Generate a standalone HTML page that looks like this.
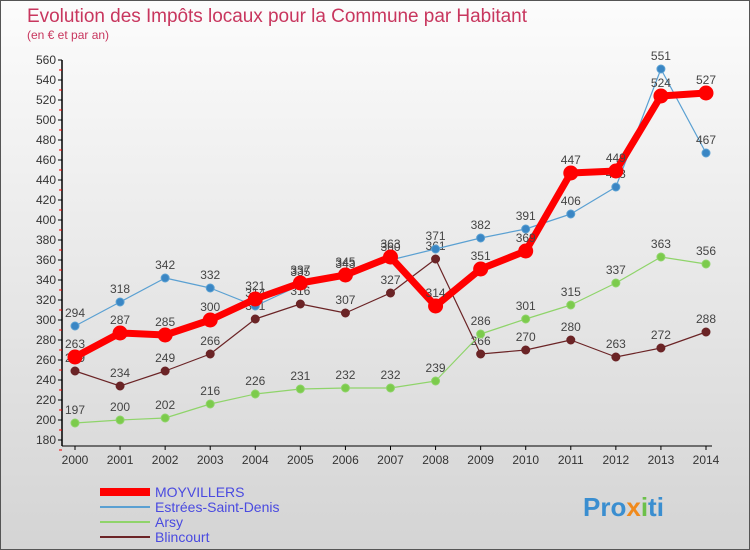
<!DOCTYPE html>
<html><head><meta charset="utf-8"><style>
body{margin:0}
#c{width:750px;height:550px;position:relative;overflow:hidden;font-family:"Liberation Sans",sans-serif}
</style></head><body>
<div id="c">
<svg id="s" width="750" height="550" xmlns="http://www.w3.org/2000/svg">
<defs><linearGradient id="bg" x1="0" y1="0" x2="0" y2="1"><stop offset="0" stop-color="#fcfcfc"/><stop offset="1" stop-color="#d4d4d4"/></linearGradient></defs>
<rect x="0.5" y="0.5" width="749" height="549" fill="url(#bg)" stroke="#555"/>
<text x="27" y="22" font-size="19" fill="#c8365e" textLength="500">Evolution des Impôts locaux pour la Commune par Habitant</text>
<text x="27" y="39" font-size="12" fill="#c8365e">(en € et par an)</text>
<g id="axes"></g><g id="series"></g><g id="legend"></g>
<text x="583" y="516" font-size="26" font-weight="bold" fill="#3a8ed0">Pro<tspan fill="#f08a1c">x</tspan><tspan fill="#6cc04a">i</tspan>ti</text>
</svg></div>
<script>
const years=[2000,2001,2002,2003,2004,2005,2006,2007,2008,2009,2010,2011,2012,2013,2014];
const yTicks=[180,200,220,240,260,280,300,320,340,360,380,400,420,440,460,480,500,520,540,560];
const moyvillers=[263,287,285,300,321,337,345,363,314,351,369,447,449,524,527];
const estrees=[294,318,342,332,314,335,343,360,371,382,391,406,433,551,467];
const arsy=[197,200,202,216,226,231,232,232,239,286,301,315,337,363,356];
const blincourt=[249,234,249,266,301,316,307,327,361,266,270,280,263,272,288];
const NS="http://www.w3.org/2000/svg";
const xS=i=>75+i*(706-75)/14;
const yS=v=>620-v;
function mk(t,a,p){const e=document.createElementNS(NS,t);for(const k in a)e.setAttribute(k,a[k]);p.appendChild(e);return e;}
const ax=document.getElementById('axes');
const yl=mk('line',{x1:62,y1:60,x2:62,y2:446,stroke:'#000','stroke-width':1.5},ax);


const xl=mk('line',{x1:62,y1:446,x2:712,y2:446,stroke:'#000','stroke-width':1},ax);


yTicks.forEach(v=>{
 mk('line',{x1:58,y1:yS(v),x2:62,y2:yS(v),stroke:'#000'},ax);
 mk('line',{x1:59,y1:yS(v)+10,x2:62,y2:yS(v)+10,stroke:'#e00'},ax);
 const t=mk('text',{x:56,y:yS(v)+4,'font-size':12,'text-anchor':'end',fill:'#333'},ax);
 t.textContent=v;
 
 
});
years.forEach((y,i)=>{
 mk('line',{x1:xS(i),y1:446,x2:xS(i),y2:450,stroke:'#000'},ax);
 const t=mk('text',{x:xS(i),y:464,'font-size':12,'text-anchor':'middle',fill:'#333'},ax);
 t.textContent=y;
 
 
});
const sg=document.getElementById('series');
function draw(name,data,color,w,r,fill){
 const g=mk('g',{},sg);
 
 
 mk('polyline',{points:data.map((v,i)=>xS(i)+','+yS(v)).join(' '),fill:'none',stroke:color,'stroke-width':w,'stroke-linejoin':'round'},g);
 data.forEach((v,i)=>{
  const c=mk('circle',{cx:xS(i),cy:yS(v),r:r,fill:fill,stroke:color,'stroke-width':1},g);
  
  
  const t=mk('text',{x:xS(i),y:yS(v)-9,'font-size':12,'text-anchor':'middle',fill:'#444'},g);
  t.textContent=v;
  
  
 });
}
draw('blincourt',blincourt,'#6b2426',1.2,4,'#6b2426');
draw('arsy',arsy,'#8fd46a',1.2,4,'#7ccb4c');
draw('estrees',estrees,'#5aa0d2',1.2,4,'#3a86c4');
draw('moyvillers',moyvillers,'#f00',7,7,'#f00');
const lg=document.getElementById('legend');
const items=[['MOYVILLERS','#f00',8],['Estrées-Saint-Denis','#5aa0d2',2],['Arsy','#8fd46a',2],['Blincourt','#6b2426',2]];
items.forEach((it,i)=>{
 const y=492+i*15;
 const g=mk('g',{},lg);
 
 
 mk('line',{x1:100,y1:y,x2:150,y2:y,stroke:it[1],'stroke-width':it[2]},g);
 const t=mk('text',{x:155,y:y+5,'font-size':14,fill:'#4a4ae0'},g);
 t.textContent=it[0];
});
</script>
</body></html>
